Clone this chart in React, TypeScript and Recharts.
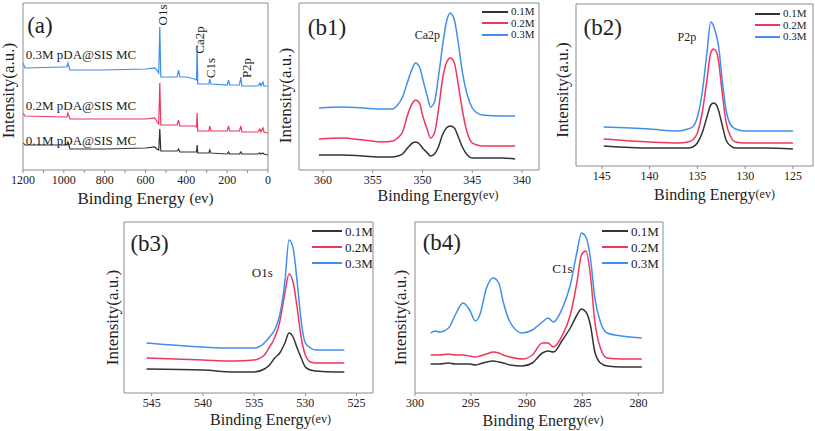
import React from 'react';
import { LineChart, Line, XAxis, YAxis, Legend, ReferenceDot } from 'recharts';

const SERIES = ['0.1M', '0.2M', '0.3M'];
const COLORS = ['#333333', '#f0365e', '#3f8ef2'];
const FONT = '"Liberation Serif", "Times New Roman", serif';
const AXIS = '#8c8c8c';
const TEXT = '#222222';

// (a) survey spectra
const surveyEnergy = [1200, 1190, 1000, 985, 980, 970, 800, 600, 555, 545, 535, 530, 525, 500, 445, 438, 432, 400, 380, 360, 350, 347, 344, 290, 285, 280, 200, 193, 188, 140, 133, 128, 50, 40, 35, 25, 20, 0];
const survey01 = [27, 25, 25, 25, 28, 21, 21, 22, 23, 21, 20, 41, 19, 19, 19, 21, 18, 18, 18, 18, 18, 25, 17, 17, 20, 17, 16, 18, 16, 16, 18, 16, 16, 17, 16, 17, 16, 15];
const survey02 = [57, 54, 53, 53, 57, 51, 51, 51, 52, 49, 46, 87, 45, 45, 45, 50, 44, 44, 44, 44, 43, 57, 39, 39, 44, 39, 39, 44, 39, 39, 44, 38, 38, 41, 38, 42, 38, 37];
const survey03 = [107, 102, 103, 103, 107, 100, 100, 101, 102, 100, 97, 143, 93, 93, 93, 100, 93, 93, 92, 91, 90, 125, 86, 86, 91, 86, 85, 90, 85, 85, 93, 84, 84, 87, 84, 88, 84, 84];
const surveyTicks = [1200, 1100, 1000, 900, 800, 700, 600, 500, 400, 300, 200, 100, 0];
const surveyNames = ['0.1M pDA@SIS MC', '0.2M pDA@SIS MC', '0.3M pDA@SIS MC'];

// (b1) Ca2p
const caEnergy = [360.4, 358, 356, 354, 353, 352.5, 352, 351.5, 351, 350.7, 350.3, 350, 349.5, 349.2, 348.8, 348.4, 348, 347.6, 347.2, 346.8, 346.4, 346, 345.5, 345, 344.5, 344, 342, 340.7];
const ca01 = [15, 15, 14, 13, 13, 14, 16, 22, 27, 28, 26, 22, 17, 14, 16, 23, 35, 42, 44, 42, 33, 23, 15, 12, 12, 12, 12, 11];
const ca02 = [31, 32, 30, 28, 29, 32, 38, 55, 67, 70, 67, 55, 40, 32, 37, 60, 90, 107, 112, 107, 85, 60, 37, 27, 25, 24, 24, 24];
const ca03 = [62, 63, 62, 61, 61, 65, 73, 88, 102, 107, 103, 92, 73, 63, 68, 93, 123, 148, 157, 150, 127, 98, 75, 62, 57, 55, 54, 54];
const caTicks = [360, 355, 350, 345, 340];

// (b2) P2p
const pEnergy = [144.8, 140, 137, 136, 135.5, 135, 134.5, 134, 133.6, 133.3, 133, 132.8, 132.4, 132, 131.5, 131, 130, 128, 125];
const p01 = [20, 18, 18, 18, 19, 23, 33, 49, 61, 63, 61, 56, 41, 26, 20, 18, 18, 18, 17];
const p02 = [27, 24, 23, 24, 26, 33, 53, 86, 113, 117, 114, 106, 73, 44, 29, 24, 23, 23, 23];
const p03 = [39, 37, 35, 37, 39, 49, 73, 113, 144, 140, 130, 121, 86, 56, 41, 37, 35, 35, 35];
const pTicks = [145, 140, 135, 130, 125];

// (b3) O1s
const oEnergy = [545.5, 540, 537, 535, 534, 533.5, 533, 532.5, 532, 531.6, 531.2, 530.8, 530.4, 530, 529.5, 529, 527, 526.2];
const o01 = [24, 23, 21, 21, 24, 28, 35, 40, 50, 60, 56, 45, 35, 26, 23, 22, 21, 21];
const o02 = [35, 33, 32, 33, 38, 46, 55, 71, 100, 119, 111, 85, 55, 38, 31, 30, 30, 30];
const o03 = [50, 46, 45, 45, 50, 56, 63, 78, 111, 153, 145, 111, 71, 50, 45, 43, 43, 43];
const oTicks = [545, 540, 535, 530, 525];

// (b4) C1s
const cEnergy = [298.6, 298.2, 297.8, 297.0, 296.4, 295.7, 295.1, 294.6, 294.2, 293.6, 293.0, 292.5, 292.1, 291.5, 290.4, 289.5, 288.6, 288.1, 287.6, 286.8, 286.1, 285.5, 285.1, 284.7, 284.3, 283.9, 283.4, 282.8, 281.5, 279.7];
const c01 = [29, 29, 29, 30, 29, 29, 29, 28, 29, 31, 32, 31, 30, 28, 27, 30, 40, 42, 41, 53, 65, 78, 84, 81, 68, 41, 30, 27, 26, 26];
const c02 = [38, 38, 38, 39, 38, 38, 37, 36, 37, 39, 41, 40, 38, 36, 34, 38, 50, 50, 46, 58, 78, 111, 138, 142, 118, 71, 45, 35, 34, 34];
const c03 = [60, 62, 61, 65, 78, 90, 83, 72, 78, 105, 115, 110, 91, 71, 60, 63, 71, 75, 71, 85, 108, 141, 160, 156, 135, 95, 71, 60, 57, 55];
const cTicks = [300, 295, 290, 285, 280];

type Row = { e: number; s1: number; s2: number; s3: number };

const toRows = (energy: number[], a: number[], b: number[], c: number[]): Row[] =>
  energy.map((e, i) => ({ e, s1: a[i], s2: b[i], s3: c[i] }));

const yTitle = (dx: number, dy: number) => (props: any) => {
  const { x, y, width, height } = props.viewBox;
  const cx = x + width - dx;
  const cy = y + height / 2 + dy;
  return (
    <text x={cx} y={cy} transform={`rotate(-90 ${cx} ${cy})`} textAnchor="middle" dominantBaseline="central"
      fontSize={17} fontFamily={FONT} fill={TEXT}>
      Intensity(a.u.)
    </text>
  );
};

const xTitle = (dx: number, dy: number, gap: string, big: number, small: number) => (props: any) => {
  const { x, y, width } = props.viewBox;
  return (
    <text x={x + width / 2 + dx} y={y + dy} textAnchor="middle" dominantBaseline="central" fontFamily={FONT} fill={TEXT}>
      <tspan fontSize={big}>{'Binding Energy' + gap}</tspan>
      <tspan fontSize={small}>(ev)</tspan>
    </text>
  );
};

const legendContent = (rowH: number, lineW: number, fontSize: number) => (props: any) => (
  <div style={{ fontFamily: FONT, fontSize, color: TEXT, lineHeight: 1 }}>
    {(props.payload || []).map((item: any) => (
      <div key={item.value} style={{ display: 'flex', alignItems: 'center', height: rowH }}>
        <svg width={lineW} height={4} style={{ display: 'block' }}>
          <line x1={0} y1={2} x2={lineW} y2={2} stroke={item.color} strokeWidth={2} />
        </svg>
        <span style={{ marginLeft: 3 }}>{item.value}</span>
      </div>
    ))}
  </div>
);

const note = (value: string, fontSize: number, angle = 0) => ({
  value,
  position: 'center' as const,
  fontSize,
  fontFamily: FONT,
  fill: TEXT,
  angle,
});

type PanelProps = {
  left: number;
  top: number;
  width: number;
  height: number;
  box: { top: number; right: number; bottom: number; left: number };
  rows: Row[];
  domain: [number, number];
  yMax: number;
  ticks: number[];
  showTick?: (v: number) => boolean;
  curve: 'linear' | 'monotone';
  lineWidth: number;
  xLabel: any;
  yLabel: any;
  children?: React.ReactNode;
};

// the frame is drawn by four 1px axes, so the margins lose that pixel
const Panel = (p: PanelProps) => (
  <div style={{ position: 'absolute', left: p.left, top: p.top }}>
    <LineChart width={p.width} height={p.height} data={p.rows}
      margin={{ top: p.box.top - 1, right: p.box.right - 1, bottom: p.box.bottom, left: p.box.left - 1 }}>
      <XAxis dataKey="e" type="number" domain={p.domain} reversed allowDataOverflow ticks={p.ticks} interval={0}
        tickFormatter={(v: number) => (p.showTick && !p.showTick(v) ? '' : String(v))}
        tickSize={3} tickMargin={2} stroke={AXIS} height={30}
        tick={{ fontSize: 12, fill: TEXT, fontFamily: FONT }} label={p.xLabel} />
      <XAxis xAxisId="top" orientation="top" type="number" domain={p.domain} reversed allowDataOverflow
        height={1} tick={false} tickLine={false} stroke={AXIS} />
      <YAxis type="number" domain={[0, p.yMax]} allowDataOverflow width={1} tick={false} tickLine={false}
        stroke={AXIS} label={p.yLabel} />
      <YAxis yAxisId="right" orientation="right" type="number" domain={[0, p.yMax]} allowDataOverflow width={1}
        tick={false} tickLine={false} stroke={AXIS} />
      {['s1', 's2', 's3'].map((key, i) => (
        <Line key={key} dataKey={key} name={SERIES[i]} type={p.curve} stroke={COLORS[i]} strokeWidth={p.lineWidth}
          dot={false} activeDot={false} isAnimationActive={false} />
      ))}
      {p.children}
    </LineChart>
  </div>
);

export default function App() {
  const surveyRows = toRows(surveyEnergy, survey01, survey02, survey03);
  const caRows = toRows(caEnergy, ca01, ca02, ca03);
  const pRows = toRows(pEnergy, p01, p02, p03);
  const oRows = toRows(oEnergy, o01, o02, o03);
  const cRows = toRows(cEnergy, c01, c02, c03);

  return (
    <div style={{ position: 'absolute', left: 0, top: 0, width: 815, height: 431, background: '#fff', overflow: 'hidden' }}>
      <Panel left={0} top={0} width={275} height={212} box={{ top: 3, right: 7, bottom: 12, left: 23 }}
        rows={surveyRows} domain={[0, 1200]} yMax={167} ticks={surveyTicks} showTick={(v) => v % 200 === 0}
        curve="linear" lineWidth={1.2} xLabel={xTitle(0, 28, ' ', 17, 15)} yLabel={yTitle(15, 4)}>
        <ReferenceDot x={1117} y={145} r={0} fill="none" stroke="none" label={note('(a)', 23)} />
        <ReferenceDot x={916} y={116} r={0} fill="none" stroke="none" label={note(surveyNames[2], 13)} />
        <ReferenceDot x={916} y={65} r={0} fill="none" stroke="none" label={note(surveyNames[1], 13)} />
        <ReferenceDot x={916} y={30} r={0} fill="none" stroke="none" label={note(surveyNames[0], 13)} />
        <ReferenceDot x={519} y={155} r={0} fill="none" stroke="none" label={note('O1s', 13, -90)} />
        <ReferenceDot x={338} y={130} r={0} fill="none" stroke="none" label={note('Ca2p', 13, -90)} />
        <ReferenceDot x={284} y={102} r={0} fill="none" stroke="none" label={note('C1s', 13, -90)} />
        <ReferenceDot x={108} y={102} r={0} fill="none" stroke="none" label={note('P2p', 13, -90)} />
      </Panel>

      <Panel left={270} top={0} width={275} height={212} box={{ top: 3, right: 6, bottom: 12, left: 29 }}
        rows={caRows} domain={[338.3, 362.4]} yMax={167} ticks={caTicks}
        curve="monotone" lineWidth={1.5} xLabel={xTitle(19, 25, '', 16, 12)} yLabel={yTitle(14, 9)}>
        <ReferenceDot x={359.6} y={143} r={0} fill="none" stroke="none" label={note('(b1)', 23)} />
        <ReferenceDot x={349.5} y={135} r={0} fill="none" stroke="none" label={note('Ca2p', 12)} />
        <Legend layout="horizontal" align="center" verticalAlign="middle"
          wrapperStyle={{ left: 212, top: 6, width: 'auto', height: 'auto' }} content={legendContent(11.5, 26, 11)} />
      </Panel>

      <Panel left={545} top={0} width={270} height={212} box={{ top: 4, right: 2, bottom: 16, left: 31 }}
        rows={pRows} domain={[122.9, 147.7]} yMax={162} ticks={pTicks}
        curve="monotone" lineWidth={1.5} xLabel={xTitle(20, 28, '', 16, 12)} yLabel={yTitle(14, 5)}>
        <ReferenceDot x={144.9} y={139} r={0} fill="none" stroke="none" label={note('(b2)', 23)} />
        <ReferenceDot x={136.1} y={129} r={0} fill="none" stroke="none" label={note('P2p', 12)} />
        <Legend layout="horizontal" align="center" verticalAlign="middle"
          wrapperStyle={{ left: 210, top: 8, width: 'auto', height: 'auto' }} content={legendContent(11.5, 25, 11)} />
      </Panel>

      <Panel left={95} top={215} width={285} height={216} box={{ top: 7, right: 7, bottom: 8, left: 29 }}
        rows={oRows} domain={[523.4, 547.7]} yMax={171} ticks={oTicks}
        curve="monotone" lineWidth={1.5} xLabel={xTitle(22, 26, '', 16, 12)} yLabel={yTitle(12, 10)}>
        <ReferenceDot x={545.2} y={150} r={0} fill="none" stroke="none" label={note('(b3)', 23)} />
        <ReferenceDot x={534.2} y={121} r={0} fill="none" stroke="none" label={note('O1s', 13)} />
        <Legend layout="horizontal" align="center" verticalAlign="middle"
          wrapperStyle={{ left: 217, top: 8, width: 'auto', height: 'auto' }} content={legendContent(16, 30, 13)} />
      </Panel>

      <Panel left={385} top={215} width={285} height={216} box={{ top: 7, right: 7, bottom: 8, left: 30 }}
        rows={cRows} domain={[277.8, 300]} yMax={171} ticks={cTicks}
        curve="monotone" lineWidth={1.5} xLabel={xTitle(4, 27, '', 16, 12)} yLabel={yTitle(15, 10)}>
        <ReferenceDot x={297.6} y={151} r={0} fill="none" stroke="none" label={note('(b4)', 23)} />
        <ReferenceDot x={286.8} y={125} r={0} fill="none" stroke="none" label={note('C1s', 13)} />
        <Legend layout="horizontal" align="center" verticalAlign="middle"
          wrapperStyle={{ left: 217, top: 8, width: 'auto', height: 'auto' }} content={legendContent(16, 26, 13)} />
      </Panel>
    </div>
  );
}
